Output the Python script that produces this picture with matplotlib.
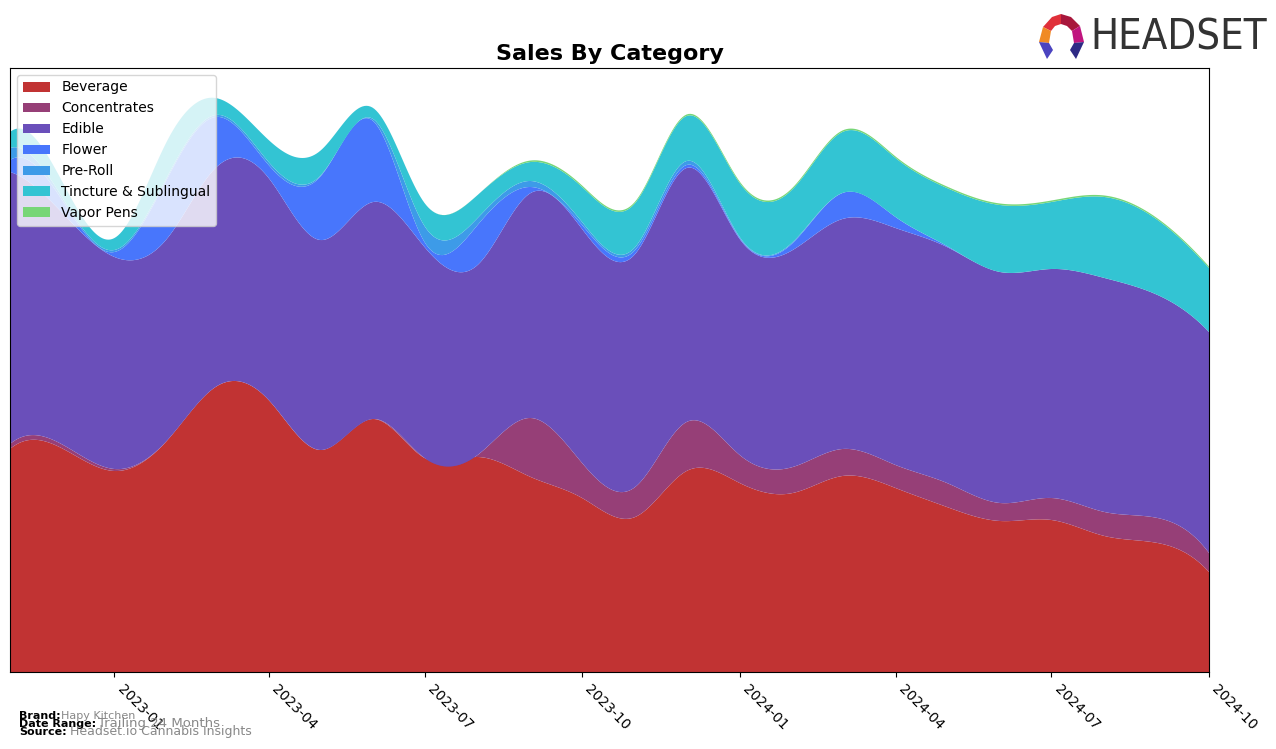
import numpy as np
import pandas as pd
import matplotlib
matplotlib.use("Agg")
import matplotlib.pyplot as plt
import matplotlib.dates as mdates
from matplotlib.patches import Polygon

# ---------------- data ----------------
months = pd.date_range("2022-11-01", "2024-10-01", freq="MS")
categories = ["Beverage", "Concentrates", "Edible", "Flower", "Pre-Roll",
              "Tincture & Sublingual", "Vapor Pens"]
beverage = [223, 224, 201, 232, 285, 272, 222, 253, 214, 215, 195, 174,
            155, 201, 189, 179, 196, 184, 165, 151, 152, 136, 129, 100]
concentrates = [5, 4, 2, 0, 0, 0, 0, 0, 0, 2, 59, 35,
                30, 49, 28, 26, 27, 23, 24, 18, 22, 24, 25, 19]
edible = [272, 232, 212, 202, 219, 222, 210, 217, 211, 190, 225, 234,
          233, 254, 216, 217, 230, 237, 236, 231, 229, 234, 223, 221]
flower = [12, 13, 5, 60, 51, 13, 63, 81, 5, 40, 6, 4,
          4, 3, 1, 7, 26, 11, 1, 0, 0, 0, 0, 0]
preroll = [12, 3, 2, 2, 2, 3, 1, 2, 16, 7, 6, 3,
           3, 4, 1, 1, 0, 0, 0, 0, 0, 0, 0, 0]
tincture = [16, 16, 12, 36, 17, 22, 25, 11, 23, 23, 19, 35,
            44, 45, 54, 53, 61, 59, 58, 67, 67, 81, 75, 64]
vapor = [0, 0, 0, 0, 0, 0, 0, 0, 0, 0, 1.5, 1.5,
         1.5, 1.5, 1.5, 1.5, 1.5, 1.5, 1.5, 1.5, 1.5, 1.5, 1.5, 1.5]
colors = ["#c13333", "#963f77", "#6a4fba", "#4876fc", "#3d9be8", "#33c4d3", "#77d677"]
xtick_labels = ["2023-01", "2023-04", "2023-07", "2023-10",
                "2024-01", "2024-04", "2024-07", "2024-10"]


# ---------------- smoothing (cubic spline, not-a-knot) ----------------
def cubic_spline(x, y, xs):
    x = np.asarray(x, float)
    y = np.asarray(y, float)
    n = len(x)
    h = np.diff(x)
    A = np.zeros((n, n))
    b = np.zeros(n)
    A[0, 0], A[0, 1], A[0, 2] = h[1], -(h[0] + h[1]), h[0]
    A[-1, -3], A[-1, -2], A[-1, -1] = h[-1], -(h[-2] + h[-1]), h[-2]
    for i in range(1, n - 1):
        A[i, i - 1] = h[i - 1]
        A[i, i] = 2 * (h[i - 1] + h[i])
        A[i, i + 1] = h[i]
        b[i] = 6 * ((y[i + 1] - y[i]) / h[i] - (y[i] - y[i - 1]) / h[i - 1])
    M = np.linalg.solve(A, b)
    idx = np.clip(np.searchsorted(x, xs) - 1, 0, n - 2)
    x0, x1 = x[idx], x[idx + 1]
    hh = x1 - x0
    return (M[idx] * (x1 - xs) ** 3 / (6 * hh) + M[idx + 1] * (xs - x0) ** 3 / (6 * hh)
            + (y[idx] / hh - M[idx] * hh / 6) * (x1 - xs)
            + (y[idx + 1] / hh - M[idx + 1] * hh / 6) * (xs - x0))


xnum = mdates.date2num(months)
xs = np.linspace(xnum[0], xnum[-1], 600)
series = [beverage, concentrates, edible, flower, preroll, tincture, vapor]
smooth = [cubic_spline(xnum, s, xs) for s in series]

# ---------------- figure ----------------
fig = plt.figure(figsize=(12.76, 7.49), dpi=100)
ax = fig.add_axes([10 / 1276, 1 - 672 / 749, 1199 / 1276, 604 / 749])
ax.stackplot(mdates.num2date(xs), *smooth, labels=categories, colors=colors)

ax.set_xlim(months[0], months[-1])
ax.set_ylim(0, 604)
ax.set_yticks([])
ticks = pd.to_datetime([l + "-01" for l in xtick_labels])
ax.set_xticks(ticks)
ax.set_xticklabels(xtick_labels, rotation=-45, ha="left", rotation_mode="default", fontsize=10)
ax.set_title("Sales By Category", fontsize=16, fontweight="bold", pad=6)
ax.legend(loc="upper left", fontsize=10, framealpha=0.8)

# footer
fig.text(19 / 1276, 1 - 716 / 749, "Brand:", fontsize=8, fontweight="bold", va="center")
fig.text(61 / 1276, 1 - 716 / 749, "Hapy Kitchen", fontsize=8, color="#888888", va="center")
fig.text(19 / 1276, 1 - 724 / 749, "Date Range:", fontsize=8, fontweight="bold", va="center")
fig.text(98 / 1276, 1 - 724 / 749, "Trailing 24 Months", fontsize=9.5, color="#888888", va="center")
fig.text(19 / 1276, 1 - 732 / 749, "Source:", fontsize=8, fontweight="bold", va="center")
fig.text(70 / 1276, 1 - 732 / 749, "Headset.io Cannabis Insights", fontsize=9, color="#888888", va="center")

# logo
def P(pts, c):
    pts = [(px / 1276, 1 - py / 749) for px, py in pts]
    fig.patches.append(Polygon(pts, closed=True, facecolor=c, edgecolor="none",
                               transform=fig.transFigure, figure=fig))

P([(1043, 27), (1052, 17), (1061, 14), (1061, 24), (1055, 26), (1051, 31)], "#e0303a")
P([(1061, 14), (1071, 17), (1080, 26), (1072, 31), (1067, 26), (1061, 24)], "#a8173c")
P([(1080, 26), (1084, 42), (1074, 43), (1072, 31)], "#c0157f")
P([(1043, 27), (1051, 31), (1049, 43), (1039, 42)], "#f08a24")
P([(1039, 42), (1049, 43), (1053, 50), (1047, 59)], "#4b44c0")
P([(1084, 42), (1074, 43), (1070, 50), (1076, 59)], "#2e2a85")
fig.text(1090 / 1276, 1 - 38 / 749, "HEADSET", fontsize=30, color="#333333", va="center",
         family="DejaVu Sans", fontstretch="condensed")

fig.savefig("out.png", dpi=100)
